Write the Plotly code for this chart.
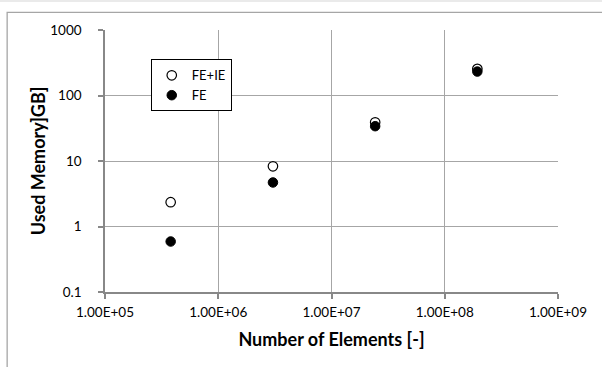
import plotly.graph_objects as go

elements = [3.8e5, 3.04e6, 2.43e7, 1.94e8]
mem_fe_ie = [2.35, 8.3, 39.0, 255.0]
mem_fe = [0.59, 4.7, 34.0, 232.0]

x_tickvals = [1e5, 1e6, 1e7, 1e8, 1e9]
x_ticktext = ["1.00E+05", "1.00E+06", "1.00E+07", "1.00E+08", "1.00E+09"]
y_tickvals = [0.1, 1, 10, 100, 1000]
y_ticktext = ["0.1", "1", "10", "100", "1000"]

FONT = "Lato, 'Open Sans', sans-serif"

fig = go.Figure()
fig.add_trace(go.Scatter(
    x=elements, y=mem_fe_ie, mode="markers", name="FE+IE",
    marker=dict(symbol="circle", size=9.5, color="white",
                line=dict(color="black", width=1.2)),
))
fig.add_trace(go.Scatter(
    x=elements, y=mem_fe, mode="markers", name="FE",
    marker=dict(symbol="circle", size=9.5, color="black",
                line=dict(color="black", width=1)),
))

fig.update_layout(
    width=602, height=367,
    margin=dict(l=105, r=44, t=30, b=74.5),
    paper_bgcolor="white", plot_bgcolor="white",
    font=dict(family=FONT, size=13, color="black"),
    showlegend=True,
    legend=dict(x=0.101, y=0.888, xanchor="left", yanchor="top",
                bordercolor="black", borderwidth=1, bgcolor="white",
                font=dict(size=13, family=FONT), tracegroupgap=0,
                itemwidth=30),
    shapes=[
        dict(type="rect", xref="paper", yref="paper",
             x0=-0.216, x1=1.3, y0=1.067, y1=-0.6,
             line=dict(color="#a6a6a6", width=1.3), layer="below"),
        dict(type="line", xref="paper", yref="paper",
             x0=-0.25, x1=1.3, y0=1.111, y1=1.111,
             line=dict(color="#e3e3e3", width=1.5), layer="below"),
    ],
)

fig.update_xaxes(
    type="log", range=[5, 9],
    tickvals=x_tickvals, ticktext=x_ticktext,
    showgrid=True, gridcolor="#a6a6a6", gridwidth=1,
    showline=True, linecolor="#888888", linewidth=1.5,
    ticks="outside", ticklen=5, tickcolor="#888888", tickwidth=1.5,
    tickfont=dict(size=13.5, family=FONT), ticklabelstandoff=2,
    title=dict(text="<b>Number of Elements [-]</b>",
               font=dict(size=18, family=FONT), standoff=14),
    zeroline=False, mirror=False,
)
fig.update_yaxes(
    type="log", range=[-1, 3],
    tickvals=y_tickvals, ticktext=y_ticktext,
    showgrid=True, gridcolor="#a6a6a6", gridwidth=1,
    showline=True, linecolor="#888888", linewidth=1.5,
    ticks="outside", ticklen=5, tickcolor="#888888", tickwidth=1.5,
    tickfont=dict(size=13.5, family=FONT), ticklabelstandoff=14,
    title=dict(text="<b>Used Memory]GB]</b>",
               font=dict(size=18, family=FONT), standoff=0),
    zeroline=False,
)

fig.write_html("out.html",
               config={"displayModeBar": False},
               post_script="document.body.style.margin='0px';")
